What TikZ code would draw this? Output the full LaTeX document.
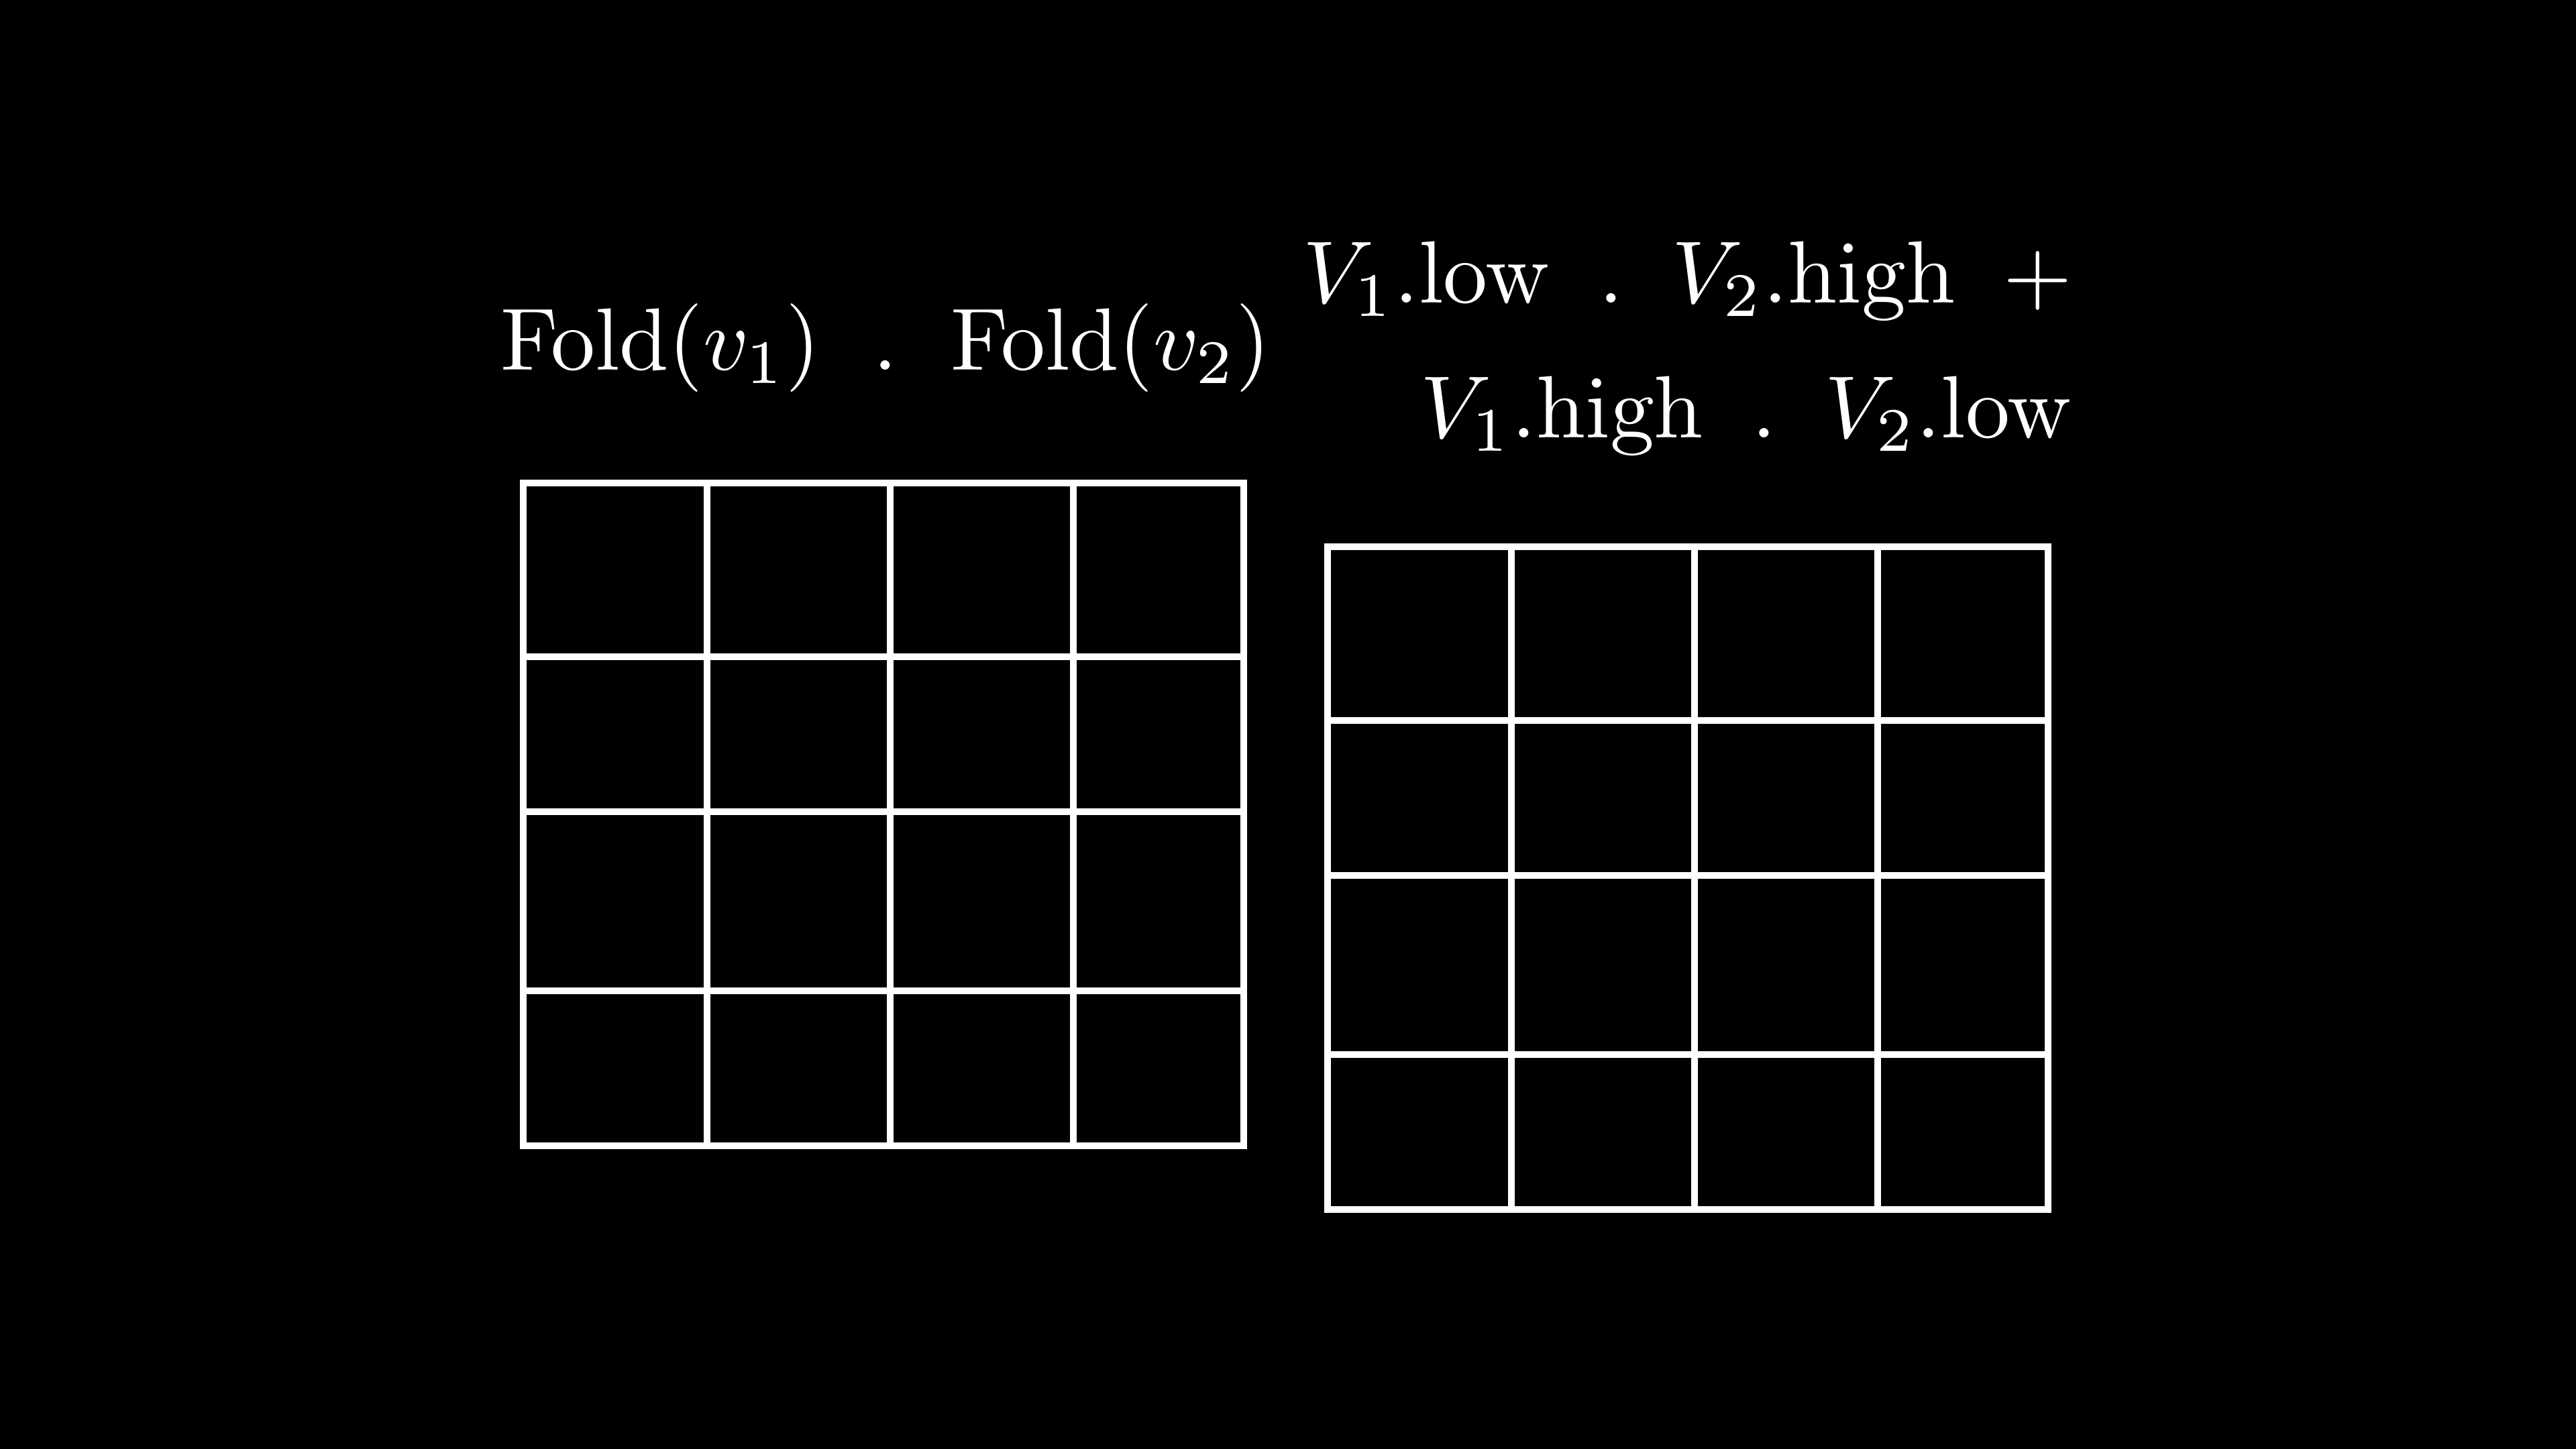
\documentclass[tikz,border=0pt]{standalone}
\usepackage{amssymb}
\usepackage{mathtools}
\usepackage{tkz-euclide}
\usetikzlibrary{calc}

\tikzset{
  gridline/.style={white,line width=3pt,line cap=rect},
  formula/.style={white,inner sep=0pt,scale=3.75,transform shape}
}

\begin{document}
\begin{tikzpicture}
        \fill[black] (0,0) rectangle (38.4,21.6);
        \useasboundingbox (0,0) rectangle (38.4,21.6);
        \tkzDefPoints{13.20/16.08/F,30.92/17.08/S,30.92/15.07/T}
        % the two grids, the second one moved right and down
        \foreach \dx/\dy in {0/0,11.99/-0.95}{
          \begin{scope}[shift={(\dx,\dy)}]
            \foreach \x in {7.80,10.54,13.27,16.00,18.54}
              \draw[gridline] (\x,14.40) -- (\x,4.52);
            \foreach \y in {14.40,11.81,9.50,6.83,4.52}
              \draw[gridline] (7.80,\y) -- (18.54,\y);
          \end{scope}
        }
        \node[formula,anchor=base] (fold) at (F)
          {$\mathrm{Fold}(v_1)\hspace{0.6em}.\hspace{0.6em}\mathrm{Fold}(v_2)$};
        \node[formula,anchor=base east] (sumtop) at (S)
          {$V_1.\mathrm{low}\hspace{0.55em}.\hspace{0.55em}V_2.\mathrm{high}\hspace{0.55em}+$};
        \node[formula,anchor=base east] (sumbot) at (T)
          {$V_1.\mathrm{high}\hspace{0.55em}.\hspace{0.55em}V_2.\mathrm{low}$};
    \end{tikzpicture}
\end{document}
